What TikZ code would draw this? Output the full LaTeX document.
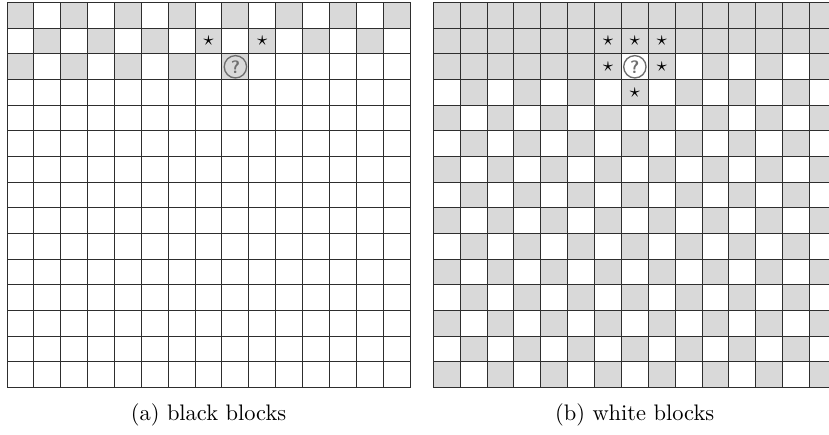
\documentclass[tikz,border=0pt]{standalone}
\usetikzlibrary{positioning}
\definecolor{BlockGray}{HTML}{D9D9D9}
\definecolor{GridInk}{HTML}{2E2E2E}
\definecolor{QueryInk}{HTML}{6E6E6E}

\begin{document}
\begin{tikzpicture}[
  x=0.4207cm,y=-0.4015cm,
  cell/.style={draw=GridInk,line width=.45pt},
  block/.style={cell,fill=BlockGray},
  open/.style={cell,fill=white},
  starmark/.style={inner sep=0pt,font=\small},
  query/.style={circle,draw=QueryInk,text=QueryInk,line width=.6pt,
    minimum size=3.5mm,inner sep=0pt,font=\sffamily\bfseries\footnotesize},
  caption/.style={font=\normalsize,inner sep=1pt}
]
  \useasboundingbox (0,0) rectangle (12.98cm,-6.797cm);

  % (a) black blocks: checkerboard up to the query cell, then empty
  \begin{scope}[shift={(0.11cm,-0.042cm)}]
    \foreach \r in {1,...,15}
      \foreach \c in {1,...,15}{
        \pgfmathtruncatemacro\idx{15*(\r-1)+\c}
        \pgfmathtruncatemacro\parity{mod(\r+\c,2)}
        \ifnum\idx<40 \ifnum\parity=0 \def\tone{block}\else\def\tone{open}\fi
        \else \def\tone{open}\fi
        \draw[\tone] (\c-1,\r-1) rectangle (\c,\r);
      }
    \draw[cell] (0,0) rectangle (15,15);
    \foreach \r/\c [count=\i] in {2/8,2/10}
      \node[starmark] (starA\i) at (\c-.5,\r-.5) {$\star$};
    \node[query] (queryA) at (8.5,2.5) {?};
  \end{scope}

  % (b) white blocks: solid up to the query cell, checkerboard after
  \begin{scope}[shift={(6.785cm,-0.042cm)}]
    \foreach \r in {1,...,15}
      \foreach \c in {1,...,15}{
        \pgfmathtruncatemacro\idx{15*(\r-1)+\c}
        \pgfmathtruncatemacro\parity{mod(\r+\c,2)}
        \ifnum\idx<38 \def\tone{block}%
        \else\ifnum\idx=38 \def\tone{open}%
        \else\ifnum\parity=0 \def\tone{block}\else\def\tone{open}\fi\fi\fi
        \draw[\tone] (\c-1,\r-1) rectangle (\c,\r);
      }
    \draw[cell] (0,0) rectangle (15,15);
    \foreach \r/\c [count=\i] in {2/7,2/8,2/9,3/7,3/9,4/8}
      \node[starmark] (starB\i) at (\c-.5,\r-.5) {$\star$};
    \node[query] (queryB) at (7.5,2.5) {?};
  \end{scope}

  \node[caption] (capA) at (3.265cm,-6.50cm) {(a) black blocks};
  \node[caption] (capB) at (9.937cm,-6.50cm) {(b) white blocks};
\end{tikzpicture}
\end{document}
